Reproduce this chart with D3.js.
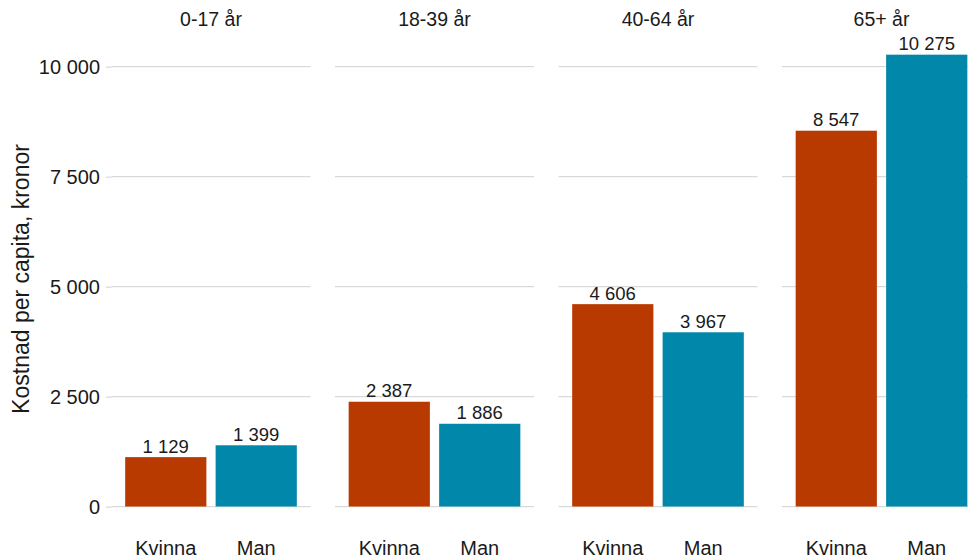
<!DOCTYPE html>
<html>
<head>
<meta charset="utf-8">
<script src="https://cdn.jsdelivr.net/npm/d3@7/dist/d3.min.js"></script>
<style>
  html, body { margin: 0; padding: 0; background: #fff; }
  svg { display: block; font-family: "Liberation Sans", Arial, sans-serif; }
</style>
</head>
<body>
<svg id="chart" width="968" height="559"></svg>
<script>
// Cost per capita by age group and sex (kronor)
const ageGroups = ["0-17 år", "18-39 år", "40-64 år", "65+ år"];
const sexes = ["Kvinna", "Man"];
const kvinnaValues = [1129, 2387, 4606, 8547];
const manValues = [1399, 1886, 3967, 10275];
const yTicks = [0, 2500, 5000, 7500, 10000];
const sexColors = ["#b83a00", "#0087aa"];

const svg = d3.select("#chart");

const locale = d3.formatLocale({ decimal: ",", thousands: " ", grouping: [3], currency: ["", " kr"] });
const fmt = locale.format(",d");

// Facet positions
const fx = d3.scaleBand()
  .domain(ageGroups)
  .range([111.5, 981])
  .paddingInner(24.5 / 223.5)
  .paddingOuter(0);

// Bars inside each facet
const bx = d3.scaleBand()
  .domain(sexes)
  .range([0, fx.bandwidth()])
  .paddingInner(0.1)
  .paddingOuter(0.15);

const y = d3.scaleLinear().domain([0, 10000]).range([506.7, 66.7]);

const color = d3.scaleOrdinal().domain(sexes).range(sexColors);

const rows = ageGroups.map((g, i) => ({
  group: g,
  values: [
    { sex: sexes[0], value: kvinnaValues[i] },
    { sex: sexes[1], value: manValues[i] }
  ]
}));

const gridColor = "#d9d9d9";
const textColor = "#1a1a1a";

// Y axis tick labels and ticks (left of first facet)
const yAxis = d3.axisLeft(y).tickValues(yTicks).tickFormat(fmt).tickSize(5.5).tickPadding(6);
const ya = svg.append("g").attr("transform", `translate(${fx(ageGroups[0])},0)`).call(yAxis);
ya.select(".domain").remove();
ya.selectAll(".tick line").attr("stroke", gridColor).attr("stroke-width", 1.2);
ya.selectAll(".tick text")
  .attr("fill", textColor)
  .style("font-size", "20px")
  .style("font-family", "'Liberation Sans', Arial, sans-serif");

// Y axis title
svg.append("text")
  .attr("transform", "translate(29,279) rotate(-90)")
  .attr("text-anchor", "middle")
  .attr("fill", textColor)
  .style("font-size", "23px")
  .text("Kostnad per capita, kronor");

const panels = svg.selectAll("g.panel")
  .data(rows)
  .join("g")
  .attr("class", "panel")
  .attr("transform", d => `translate(${fx(d.group)},0)`);

// Horizontal gridlines
panels.selectAll("line.grid")
  .data(yTicks)
  .join("line")
  .attr("class", "grid")
  .attr("x1", 0)
  .attr("x2", fx.bandwidth())
  .attr("y1", d => y(d))
  .attr("y2", d => y(d))
  .attr("stroke", gridColor)
  .attr("stroke-width", 1.2);

// Facet titles
panels.append("text")
  .attr("x", fx.bandwidth() / 2)
  .attr("y", 26)
  .attr("text-anchor", "middle")
  .attr("fill", textColor)
  .style("font-size", "19.5px")
  .text(d => d.group);

// Bars
panels.selectAll("rect.bar")
  .data(d => d.values)
  .join("rect")
  .attr("class", "bar")
  .attr("x", d => bx(d.sex))
  .attr("width", bx.bandwidth())
  .attr("y", d => y(d.value))
  .attr("height", d => y(0) - y(d.value))
  .attr("fill", d => color(d.sex))
  .attr("stroke", "#ffffff")
  .attr("stroke-opacity", 0.35)
  .attr("stroke-width", 0.6);

// Value labels
panels.selectAll("text.value")
  .data(d => d.values)
  .join("text")
  .attr("class", "value")
  .attr("x", d => bx(d.sex) + bx.bandwidth() / 2)
  .attr("y", d => y(d.value) - 4.5)
  .attr("text-anchor", "middle")
  .attr("fill", textColor)
  .style("font-size", "18.5px")
  .text(d => fmt(d.value));

// Category labels
panels.selectAll("text.cat")
  .data(sexes)
  .join("text")
  .attr("class", "cat")
  .attr("x", d => bx(d) + bx.bandwidth() / 2)
  .attr("y", 555)
  .attr("text-anchor", "middle")
  .attr("fill", textColor)
  .style("font-size", "20px")
  .text(d => d);
</script>
</body>
</html>
